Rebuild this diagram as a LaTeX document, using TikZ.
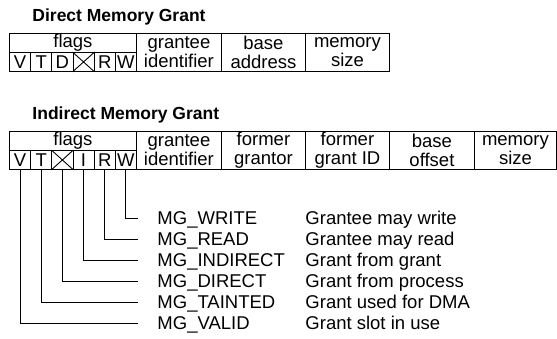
\documentclass[tikz,border=0pt]{standalone}
\usepackage{fontspec}
\setmainfont{Liberation Sans}
\begin{document}
\begin{tikzpicture}[x=1pt,y=-1pt,line width=0.9pt,
  txt/.style={inner sep=0pt,font=\fontsize{18.5}{19}\selectfont},
  cellbox/.style={draw,txt,align=center,anchor=north west,minimum height=19pt},
  flagbox/.style={cellbox,minimum width=21.17pt},
  fieldbox/.style={cellbox,minimum height=38pt},
  ttl/.style={inner sep=0pt,anchor=base west,font=\fontsize{17.5}{21}\selectfont\bfseries},
  lab/.style={txt,anchor=base west},
  lead/.style={line width=0.9pt}]
\useasboundingbox (0,0) rectangle (557,338);
% Direct Memory Grant
\node[ttl] (t1) at (32,21.6) {Direct Memory Grant};
\node[cellbox,minimum width=127pt] (dflags) at (9,33) {flags};
\node[flagbox] (dV) at (9,52) {V};
\node[flagbox] (dT) at (30.17,52) {T};
\node[flagbox] (dD) at (51.33,52) {D};
\node[flagbox] (dX) at (72.5,52) {};
\node[flagbox] (dR) at (93.67,52) {R};
\node[flagbox] (dW) at (114.83,52) {W};
\draw (dX.north west) -- (dX.south east) (dX.north east) -- (dX.south west);
\node[fieldbox,minimum width=85pt] (dg) at (136,33) {grantee\\identifier};
\node[fieldbox,minimum width=84pt] (db) at (221,33) {base\\address};
\node[fieldbox,minimum width=84pt] (dm) at (305,33) {memory\\size};
% Indirect Memory Grant
\node[ttl] (t2) at (32,119.6) {Indirect Memory Grant};
\node[cellbox,minimum width=127pt] (iflags) at (9,131) {flags};
\node[flagbox] (iV) at (9,150) {V};
\node[flagbox] (iT) at (30.17,150) {T};
\node[flagbox] (iX) at (51.33,150) {};
\node[flagbox] (iI) at (72.5,150) {I};
\node[flagbox] (iR) at (93.67,150) {R};
\node[flagbox] (iW) at (114.83,150) {W};
\draw (iX.north west) -- (iX.south east) (iX.north east) -- (iX.south west);
\node[fieldbox,minimum width=85pt] (ig) at (136,131) {grantee\\identifier};
\node[fieldbox,minimum width=84pt] (ifg) at (221,131) {former\\grantor};
\node[fieldbox,minimum width=84pt] (ifi) at (305,131) {former\\grant ID};
\node[fieldbox,minimum width=85pt] (ibo) at (389,131) {base\\offset};
\node[fieldbox,minimum width=82pt] (ims) at (474,131) {memory\\size};
% legend
\node[lab] (mW) at (157,224.6) {MG\_WRITE};
\node[lab] (mR) at (157,245.6) {MG\_READ};
\node[lab] (mI) at (157,266.6) {MG\_INDIRECT};
\node[lab] (mD) at (157,287.6) {MG\_DIRECT};
\node[lab] (mT) at (157,308.6) {MG\_TAINTED};
\node[lab] (mV) at (157,329.6) {MG\_VALID};
\node[lab] (sW) at (305,224.6) {Grantee may write};
\node[lab] (sR) at (305,245.6) {Grantee may read};
\node[lab] (sI) at (305,266.6) {Grant from grant};
\node[lab] (sD) at (305,287.6) {Grant from process};
\node[lab] (sT) at (305,308.6) {Grant used for DMA};
\node[lab] (sV) at (305,329.6) {Grant slot in use};
\coordinate (eW) at (138,218);
\coordinate (eR) at (138,239);
\coordinate (eI) at (138,260);
\coordinate (eD) at (138,281);
\coordinate (eT) at (138,302);
\coordinate (eV) at (138,323);
\draw[lead] (iW.south) |- (eW);
\draw[lead] (iR.south) |- (eR);
\draw[lead] (iI.south) |- (eI);
\draw[lead] (iX.south) |- (eD);
\draw[lead] (iT.south) |- (eT);
\draw[lead] (iV.south) |- (eV);
\end{tikzpicture}
\end{document}
